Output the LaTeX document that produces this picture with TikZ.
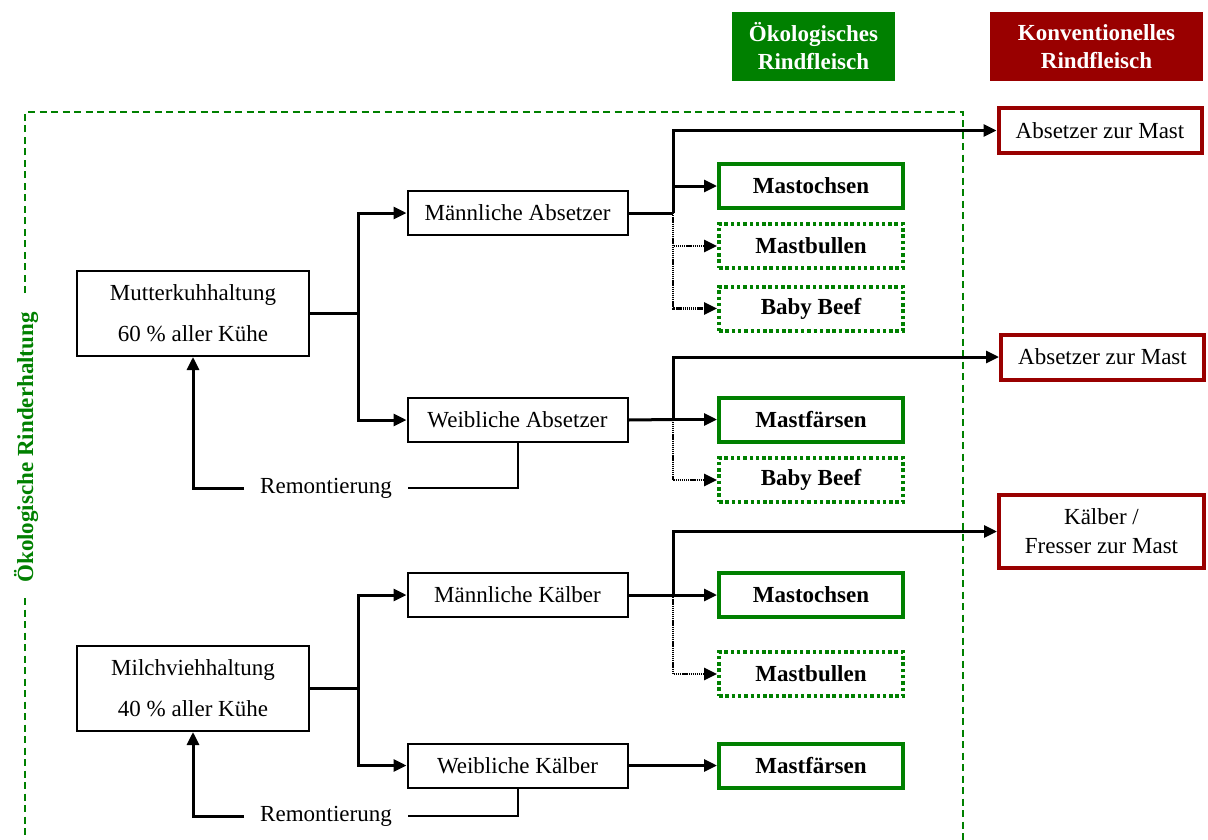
\documentclass[tikz,border=0pt]{standalone}
\usepackage{fontspec}
\setmainfont{Liberation Serif}
\usetikzlibrary{arrows.meta}
\definecolor{oekogreen}{RGB}{0,128,0}
\definecolor{konvred}{RGB}{153,0,0}
\begin{document}
\begin{tikzpicture}[x=1pt,y=-1pt,
  every node/.style={font=\fontsize{23}{27}\selectfont, inner sep=0pt},
  plainbox/.style={draw=black, line width=2pt, minimum width=220pt, minimum height=44pt},
  herdbox/.style={draw=black, line width=2pt, minimum width=232pt, minimum height=85pt,
    align=center, font=\fontsize{23}{41}\selectfont},
  ecobox/.style={draw=oekogreen, line width=4pt, minimum width=184pt, minimum height=44pt,
    font=\fontsize{23}{27}\selectfont\bfseries},
  ecodot/.style={ecobox, dash pattern=on 3.5pt off 2.8pt},
  convbox/.style={draw=konvred, line width=4pt, minimum width=203pt, minimum height=45pt, align=center,
    font=\fontsize{23}{29}\selectfont},
  header/.style={minimum height=69pt, text=white, align=center,
    font=\fontsize{23}{28}\selectfont\bfseries},
  link/.style={line width=3pt},
  arr/.style={link, -{Triangle[length=13pt,width=12pt]}},
  dotarr/.style={line width=2.6pt, dash pattern=on 1.3pt off 0.8pt, -{Triangle[length=13pt,width=12pt]}},
  frame/.style={draw=oekogreen, line width=2.5pt, dash pattern=on 7pt off 4.5pt},
  remlabel/.style={inner xsep=16pt, inner ysep=4pt}
]
\useasboundingbox (0,0) rectangle (1208,839);

% column headers
\node[header, fill=oekogreen, minimum width=163pt] (hEco) at (813.5,46.5) {Ökologisches\\Rindfleisch};
\node[header, fill=konvred, minimum width=213pt] (hConv) at (1096.5,46.5) {Konventionelles\\Rindfleisch};

% frame of organic cattle husbandry
\draw[frame] (25,293) -- (25,112) -- (963,112) -- (963,845);
\draw[frame] (25,598) -- (25,845);
\node[rotate=90, text=oekogreen, font=\fontsize{23}{27}\selectfont\bfseries] (frameLabel) at (26,447.5) {Ökologische Rinderhaltung};

% herds
\node[herdbox] (mutter) at (193,313.5) {Mutterkuhhaltung\\60 \% aller Kühe};
\node[herdbox] (milch) at (193,688.5) {Milchviehhaltung\\40 \% aller Kühe};

% offspring
\node[plainbox] (mAbs) at (517.5,213) {Männliche Absetzer};
\node[plainbox] (wAbs) at (517.5,420) {Weibliche Absetzer};
\node[plainbox] (mKal) at (517.5,595) {Männliche Kälber};
\node[plainbox] (wKal) at (517.5,765.5) {Weibliche Kälber};

% organic fattening
\node[ecobox] (ochs1) at (811,186) {Mastochsen};
\node[ecodot] (bull1) at (811,246) {Mastbullen};
\node[ecodot] (baby1) at (811,308.5) {Baby Beef};
\node[ecobox] (fars1) at (811,419.5) {Mastfärsen};
\node[ecodot] (baby2) at (811,480) {Baby Beef};
\node[ecobox] (ochs2) at (811,595) {Mastochsen};
\node[ecodot] (bull2) at (811,674) {Mastbullen};
\node[ecobox] (fars2) at (811,765.5) {Mastfärsen};

% conventional fattening
\node[convbox] (conv1) at (1100,130.5) {Absetzer zur Mast};
\node[convbox] (conv2) at (1102.5,357) {Absetzer zur Mast};
\node[convbox, minimum width=205pt, minimum height=73pt] (conv3) at (1101.5,531.5) {Kälber /\\Fresser zur Mast};

% splits from the herds
\coordinate (jMutter) at (358,313.5);
\coordinate (jMilch) at (358,688.5);
\draw[link] (mutter.east) -- (jMutter);
\draw[arr] (jMutter) |- (mAbs.west);
\draw[arr] (jMutter) |- (wAbs.west);
\draw[link] (milch.east) -- (jMilch);
\draw[arr] (jMilch) |- (mKal.west);
\draw[arr] (jMilch) |- (wKal.west);

% replacement heifers
\node[remlabel] (rem1) at (326,488) {Remontierung};
\node[remlabel] (rem2) at (326,816) {Remontierung};
\draw[line width=2pt] (wAbs.south) |- (rem1.east);
\draw[arr] (rem1.west) -| (mutter.south);
\draw[line width=2pt] (wKal.south) |- (rem2.east);
\draw[arr] (rem2.west) -| (milch.south);

% male weaners
\coordinate (jmAbs) at (673,213);
\draw[link] (mAbs.east) -- (jmAbs);
\draw[arr] (jmAbs) |- (conv1.west);
\draw[arr] (jmAbs) |- (ochs1.west);
\draw[dotarr] (jmAbs) |- (bull1.west);
\draw[dotarr] (jmAbs) |- (baby1.west);

% female weaners
\coordinate (jwAbs) at (673,419.5);
\draw[link] (wAbs.east) -- (jwAbs);
\draw[arr] (jwAbs) |- (conv2.west);
\draw[arr] (jwAbs) |- (fars1.west);
\draw[dotarr] (jwAbs) |- (baby2.west);

% male calves
\coordinate (jmKal) at (673,595);
\draw[link] (mKal.east) -- (jmKal);
\draw[arr] (jmKal) |- (conv3.west);
\draw[arr] (jmKal) -- (ochs2.west);
\draw[dotarr] (jmKal) |- (bull2.west);

% female calves
\draw[arr] (wKal.east) -- (fars2.west);
\end{tikzpicture}
\end{document}
